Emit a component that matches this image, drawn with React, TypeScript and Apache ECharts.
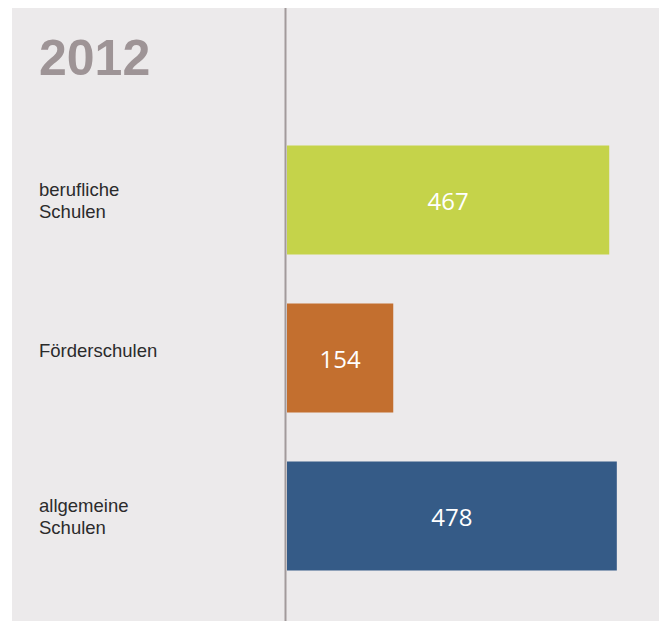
import React, { useEffect, useRef } from "react";
import * as echarts from "echarts";

const categories = ["berufliche\nSchulen", "Förderschulen", "allgemeine\nSchulen"];
const values = [467, 154, 478];
const barColors = ["#C5D34A", "#C36F2F", "#355B87"];
const titleText = "2012";

export default function App() {
  const ref = useRef<HTMLDivElement>(null);
  useEffect(() => {
    if (!ref.current) return;
    const chart = echarts.init(ref.current, null, { renderer: "svg" });
    const labelFont = {
      fontFamily: "Liberation Sans, Arial, sans-serif",
      fontSize: 18.5,
      lineHeight: 22,
      color: "#2B2B2B",
      align: "left",
    };
    chart.setOption({
      animation: false,
      backgroundColor: "transparent",
      graphic: [
        {
          type: "rect",
          z: -10,
          silent: true,
          shape: { x: 4, y: 0, width: 660, height: 620 },
          style: { fill: "#ECEAEB" },
        },
        {
          type: "line",
          z: 10,
          silent: true,
          shape: { x1: 277.5, y1: 0, x2: 277.5, y2: 620 },
          style: { stroke: "#A29A9B", lineWidth: 2 },
        },
        {
          type: "text",
          left: 31,
          top: 25,
          style: {
            text: titleText,
            fontFamily: "Liberation Sans, Arial, sans-serif",
            fontWeight: "bold",
            fontSize: 50,
            fill: "#9E9496",
          },
        },
      ],
      grid: {
        left: 279,
        right: 35,
        top: 113,
        bottom: 26,
        containLabel: false,
        outerBoundsMode: "none",
      },
      xAxis: {
        type: "value",
        min: 0,
        max: 500,
        show: false,
      },
      yAxis: {
        type: "category",
        inverse: true,
        data: categories,
        axisLine: { show: false },
        axisTick: { show: false },
        splitLine: { show: false },
        axisLabel: {
          align: "left",
          margin: 248,
          ...labelFont,
          formatter: (v: string) =>
            v.indexOf("\n") < 0 ? "{s|" + v + "}" : v,
          rich: {
            s: { ...labelFont, padding: [0, 0, 16, 0] },
          },
        },
      },
      series: [
        {
          type: "bar",
          barWidth: 109,
          data: values.map((v, i) => ({ value: v, itemStyle: { color: barColors[i] } })),
          label: {
            show: true,
            position: "inside",
            color: "#FFFFFF",
            fontFamily: "Open Sans, sans-serif",
            fontSize: 24,
          },
        },
      ],
    });
    return () => chart.dispose();
  }, []);
  return <div ref={ref} style={{ width: 659, height: 613 }} />;
}
